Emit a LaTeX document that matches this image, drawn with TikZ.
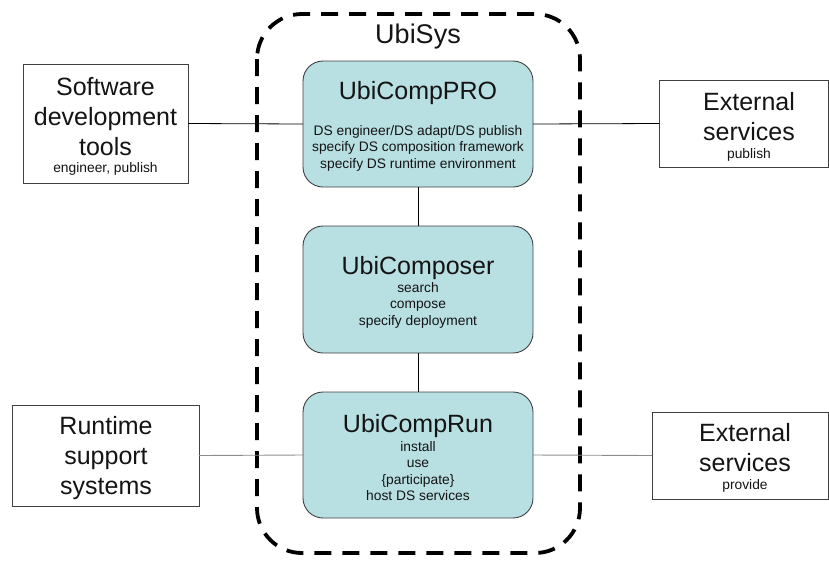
\documentclass[tikz,border=0pt]{standalone}
\usepackage{fontspec}
\setmainfont{Liberation Sans}
\begin{document}
\begin{tikzpicture}[x=1pt,y=-1pt,
  every node/.style={inner sep=0pt, outer sep=0pt, text=black!92},
  unit/.style={draw=black!75, line width=0.9pt, fill=tealfill, rounded corners=20pt,
               minimum width=230pt, minimum height=126pt},
  extbox/.style={draw=black!75, line width=0.9pt, fill=white},
  bigtxt/.style={font=\fontsize{25}{30}\selectfont, align=center},
  smalltxt/.style={font=\fontsize{13.8}{16.5}\selectfont, align=center},
  link/.style={line width=0.8pt, draw=black},
  softlink/.style={line width=0.9pt, draw=black!45},
  sysframe/.style={draw=black, line width=3.8pt, dash pattern=on 17pt off 11pt, rounded corners=45pt}
]
\definecolor{tealfill}{HTML}{B8DFE1}
\useasboundingbox (0,0) rectangle (829,563);

% UbiSys boundary
\draw[sysframe] (257,14) rectangle (580,553);
\node[font=\fontsize{27}{32}\selectfont] (sys) at (418,37) {UbiSys};

% the three UbiSys units
\node[unit] (pro) at (418,124) {};
\node[bigtxt] (protitle) at (418,93) {UbiCompPRO};
\node[smalltxt] (protext) at (418,148) {DS engineer/DS adapt/DS publish\\specify DS composition framework\\specify DS runtime environment};

\node[unit, minimum height=127pt] (comp) at (418,289.5) {};
\node[bigtxt] (comptitle) at (418,268) {UbiComposer};
\node[smalltxt] (comptext) at (418,305) {search\\compose\\specify deployment};

\node[unit] (run) at (418,455) {};
\node[bigtxt] (runtitle) at (418,426) {UbiCompRun};
\node[smalltxt] (runtext) at (418,471) {install\\use\\\{participate\}\\host DS services};

% surrounding systems
\node[extbox, minimum width=165pt, minimum height=119pt] (sdt) at (105.5,123.5) {};
\node[bigtxt] (sdttxt) at (105.5,117) {Software\\development\\tools};
\node[smalltxt] (sdtsub) at (105.5,169) {engineer, publish};

\node[extbox, minimum width=169pt, minimum height=87pt] (extpub) at (743.5,123.5) {};
\node[bigtxt] (extpubtxt) at (749,117) {External\\services};
\node[smalltxt] (extpubsub) at (749,155) {publish};

\node[extbox, minimum width=187pt, minimum height=101pt] (rts) at (105.5,455.5) {};
\node[bigtxt] (rtstxt) at (106,458) {Runtime\\support\\systems};

\node[extbox, minimum width=176pt, minimum height=87pt] (extprov) at (740,455.5) {};
\node[bigtxt] (extprovtxt) at (745,448) {External\\services};
\node[smalltxt] (extprovsub) at (745,486) {provide};

% connections
\draw[link] (sdt.east) -- (pro.west);
\draw[link] (pro.east) -- (extpub.west);
\draw[link] (pro.south) -- (comp.north);
\draw[link] (comp.south) -- (run.north);
\draw[softlink] (rts.east) -- (run.west);
\draw[softlink] (run.east) -- (extprov.west);
\end{tikzpicture}
\end{document}
